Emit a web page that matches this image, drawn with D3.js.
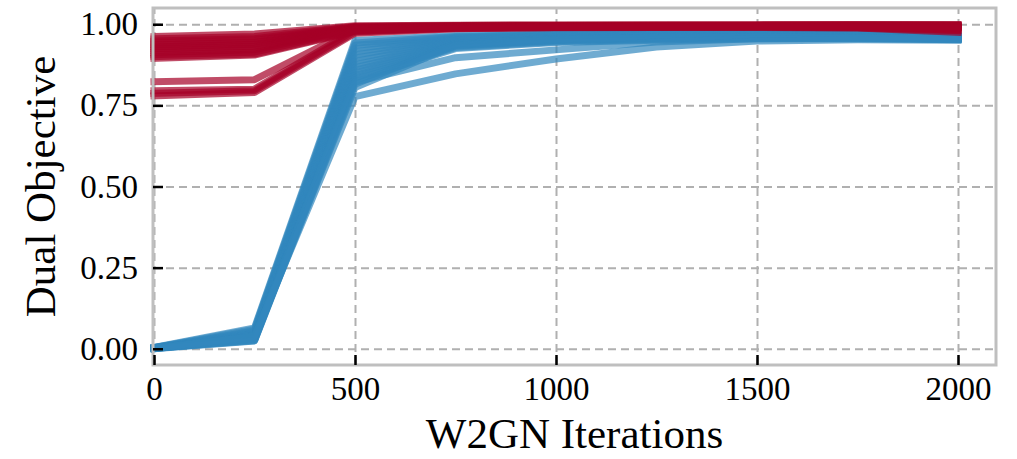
<!DOCTYPE html>
<html>
<head>
<meta charset="utf-8">
<script src="https://cdn.jsdelivr.net/npm/d3@7"></script>
<style>
  body { margin: 0; background: #fff; }
  svg { display: block; }
  .tick text { font-family: "Liberation Serif", "DejaVu Serif", serif; font-size: 33px; fill: #000; }
  .label { font-family: "Liberation Serif", "DejaVu Serif", serif; font-size: 43px; fill: #000; }
</style>
</head>
<body>
<svg width="1017" height="459"></svg>
<script>
// iterations at which the dual objective was logged
var iterations = [0, 250, 500, 750, 1000, 1250, 1500, 1750, 2000];

// red runs
var redRuns = [
  [0.962, 0.970, 0.995, 0.997, 0.998, 0.998, 0.998, 0.999, 0.999],
  [0.955, 0.962, 0.993, 0.996, 0.997, 0.998, 0.998, 0.998, 0.998],
  [0.948, 0.955, 0.992, 0.995, 0.996, 0.997, 0.997, 0.998, 0.997],
  [0.942, 0.950, 0.990, 0.994, 0.995, 0.996, 0.997, 0.997, 0.996],
  [0.936, 0.944, 0.989, 0.993, 0.995, 0.996, 0.996, 0.996, 0.995],
  [0.930, 0.938, 0.988, 0.993, 0.994, 0.995, 0.995, 0.995, 0.993],
  [0.925, 0.932, 0.986, 0.992, 0.994, 0.995, 0.995, 0.994, 0.990],
  [0.919, 0.927, 0.985, 0.991, 0.993, 0.994, 0.994, 0.993, 0.988],
  [0.913, 0.921, 0.984, 0.990, 0.992, 0.993, 0.993, 0.991, 0.985],
  [0.906, 0.914, 0.982, 0.989, 0.991, 0.992, 0.992, 0.990, 0.982],
  [0.900, 0.908, 0.980, 0.988, 0.990, 0.991, 0.991, 0.989, 0.980],
  [0.895, 0.905, 0.978, 0.987, 0.989, 0.990, 0.990, 0.988, 0.975],
  [0.823, 0.829, 0.985, 0.993, 0.995, 0.996, 0.996, 0.996, 0.994],
  [0.795, 0.800, 0.982, 0.990, 0.993, 0.994, 0.994, 0.994, 0.992],
  [0.787, 0.795, 0.976, 0.988, 0.991, 0.992, 0.993, 0.992, 0.990],
  [0.779, 0.790, 0.972, 0.986, 0.990, 0.991, 0.992, 0.991, 0.988]
];

// blue runs
var blueRuns = [
  [0.004, 0.064, 0.950, 0.965, 0.972, 0.975, 0.975, 0.972, 0.966],
  [0.003, 0.060, 0.942, 0.962, 0.970, 0.974, 0.974, 0.971, 0.965],
  [0.002, 0.056, 0.935, 0.960, 0.968, 0.972, 0.973, 0.970, 0.964],
  [0.004, 0.052, 0.925, 0.957, 0.966, 0.970, 0.971, 0.969, 0.963],
  [0.001, 0.048, 0.915, 0.955, 0.964, 0.969, 0.970, 0.968, 0.962],
  [0.003, 0.045, 0.905, 0.952, 0.962, 0.967, 0.968, 0.967, 0.961],
  [0.002, 0.042, 0.895, 0.950, 0.960, 0.966, 0.967, 0.966, 0.960],
  [0.000, 0.040, 0.885, 0.947, 0.958, 0.964, 0.966, 0.965, 0.959],
  [0.003, 0.037, 0.875, 0.944, 0.956, 0.962, 0.964, 0.963, 0.958],
  [0.001, 0.035, 0.866, 0.941, 0.954, 0.960, 0.963, 0.962, 0.957],
  [0.002, 0.032, 0.858, 0.938, 0.952, 0.958, 0.961, 0.960, 0.956],
  [0.000, 0.030, 0.850, 0.935, 0.950, 0.956, 0.960, 0.959, 0.955],
  [0.003, 0.028, 0.842, 0.932, 0.948, 0.955, 0.958, 0.958, 0.954],
  [0.001, 0.026, 0.835, 0.928, 0.946, 0.953, 0.957, 0.957, 0.953],
  [0.002, 0.025, 0.828, 0.925, 0.944, 0.951, 0.955, 0.955, 0.952],
  [0.000, 0.024, 0.815, 0.940, 0.955, 0.960, 0.962, 0.960, 0.955],
  [0.002, 0.030, 0.805, 0.935, 0.952, 0.958, 0.960, 0.958, 0.954],
  [0.001, 0.034, 0.822, 0.897, 0.921, 0.945, 0.955, 0.957, 0.955],
  [0.002, 0.038, 0.777, 0.847, 0.893, 0.930, 0.948, 0.952, 0.951]
];

var xTicks = [0, 500, 1000, 1500, 2000];
var yTicks = [0, 0.25, 0.5, 0.75, 1.0];

var svg = d3.select("svg"),
    box = {left: 153, right: 996, top: 8, bottom: 365};

var x = d3.scaleLinear()
  .domain([0, 2000])
  .range([154, 958]);

var y = d3.scaleLinear()
  .domain([-0.05, 1.05])
  .range([box.bottom, box.top]);

// dashed grid
svg.append("g")
  .attr("class", "grid")
  .attr("transform", "translate(0," + box.bottom + ")")
  .call(d3.axisBottom(x).tickValues(xTicks).tickSize(-(box.bottom - box.top)).tickFormat(""));
svg.append("g")
  .attr("class", "grid")
  .attr("transform", "translate(" + box.left + ",0)")
  .call(d3.axisLeft(y).tickValues(yTicks).tickSize(-(box.right - box.left)).tickFormat(""));
svg.selectAll(".grid .domain").remove();
svg.selectAll(".grid line")
  .attr("stroke", "#b0b0b0")
  .attr("stroke-width", 2)
  .attr("stroke-dasharray", "8,5");

var line = d3.line()
  .x(function(d, i) { return x(iterations[i]); })
  .y(function(d) { return y(d); });

function drawRuns(runs, color) {
  svg.append("g").selectAll("path")
    .data(runs)
    .enter().append("path")
      .attr("d", line)
      .attr("fill", "none")
      .attr("stroke", color)
      .attr("stroke-opacity", 0.7)
      .attr("stroke-width", 7)
      .attr("stroke-linejoin", "round")
      .attr("stroke-linecap", "square");
}
drawRuns(blueRuns, "#3288bd");
drawRuns(redRuns, "#a50026");

// frame
svg.append("rect")
  .attr("x", box.left)
  .attr("y", box.top)
  .attr("width", box.right - box.left)
  .attr("height", box.bottom - box.top)
  .attr("fill", "none")
  .attr("stroke", "#bfbfbf")
  .attr("stroke-width", 3);

// axes with inward ticks
var xAxis = svg.append("g")
  .attr("transform", "translate(0," + box.bottom + ")")
  .call(d3.axisBottom(x).tickValues(xTicks).tickSize(-10).tickPadding(12).tickFormat(d3.format("d")));
var yAxis = svg.append("g")
  .attr("transform", "translate(" + box.left + ",0)")
  .call(d3.axisLeft(y).tickValues(yTicks).tickSize(-10).tickPadding(15).tickFormat(d3.format(".2f")));
svg.selectAll(".domain").remove();
xAxis.selectAll("line").attr("stroke", "#000").attr("stroke-width", 2.5);
yAxis.selectAll("line").attr("stroke", "#000").attr("stroke-width", 2.5);
xAxis.selectAll("text").attr("dy", "0.71em");

svg.append("text")
  .attr("class", "label")
  .attr("x", (box.left + box.right) / 2)
  .attr("y", 448)
  .attr("text-anchor", "middle")
  .text("W2GN Iterations");

svg.append("text")
  .attr("class", "label")
  .attr("transform", "translate(55," + ((box.top + box.bottom) / 2) + ") rotate(-90)")
  .attr("text-anchor", "middle")
  .text("Dual Objective");
</script>
</body>
</html>
